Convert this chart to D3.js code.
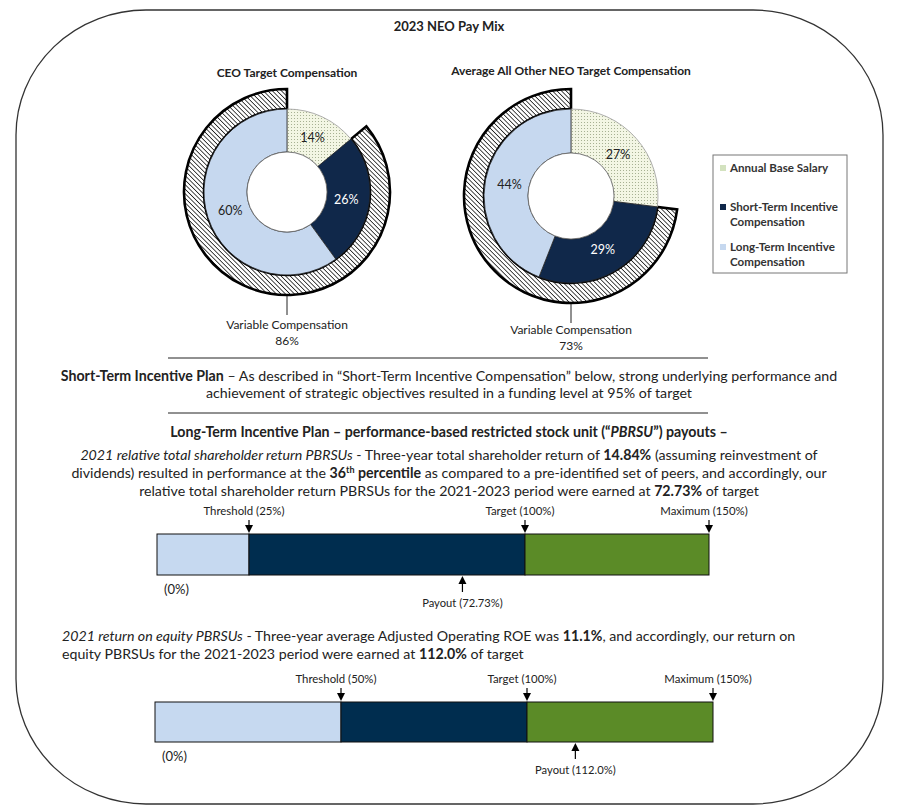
<!DOCTYPE html>
<html>
<head>
<meta charset="utf-8">
<script src="https://cdn.jsdelivr.net/npm/d3@7"></script>
<style>
  body { margin: 0; background: #fff; }
  text { font-family: Lato, "Open Sans", sans-serif; fill: #222; }
</style>
</head>
<body>
<div id="viz"></div>
<script>
// pay mix donuts
var mixTitles = ["CEO Target Compensation", "Average All Other NEO Target Compensation"]
var mixCategories = ["Annual Base Salary", "Short-Term Incentive Compensation", "Long-Term Incentive Compensation"]
var ceoMix = [14, 26, 60]
var neoMix = [27, 29, 44]
var variablePct = [86, 73]

// PBRSU payout bars
var tsrSteps = [0, 25, 100, 150]
var tsrStepLabels = ["(0%)", "Threshold (25%)", "Target (100%)", "Maximum (150%)"]
var roeSteps = [0, 50, 100, 150]
var roeStepLabels = ["(0%)", "Threshold (50%)", "Target (100%)", "Maximum (150%)"]
var payoutLabels = ["Payout (72.73%)", "Payout (112.0%)"]
// where the reference puts the payout arrow on the 0-150% bar (first one is not to scale)
var payoutMarks = [83, 113]

var sliceColors = ["url(#dots)", "#10284a", "#c6d8ef"]
var legendColors = ["#d3e2bf", "#10284a", "#c6d8ef"]
var barColors = ["#c6d9f0", "#002d4f", "#5b8b27"]

var svg = d3.select("#viz")
    .append("svg")
    .attr("width", 898)
    .attr("height", 809)

var defs = svg.append("defs")
var hatch = defs.append("pattern")
    .attr("id", "hatch")
    .attr("width", 3.2).attr("height", 3.2)
    .attr("patternUnits", "userSpaceOnUse")
    .attr("patternTransform", "rotate(-45)")
hatch.append("rect").attr("width", 3.2).attr("height", 3.2).attr("fill", "#fff")
hatch.append("line").attr("x1", 0).attr("y1", 0).attr("x2", 0).attr("y2", 3.2)
    .attr("stroke", "#111").attr("stroke-width", 1.5)

var dots = defs.append("pattern")
    .attr("id", "dots")
    .attr("width", 3).attr("height", 3)
    .attr("patternUnits", "userSpaceOnUse")
dots.append("rect").attr("width", 3).attr("height", 3).attr("fill", "#f3f6e4")
dots.append("circle").attr("cx", 1.5).attr("cy", 1.5).attr("r", 0.55).attr("fill", "#9aa584")

// outer frame
svg.append("rect")
    .attr("x", 16).attr("y", 10)
    .attr("width", 867).attr("height", 794)
    .attr("rx", 130).attr("ry", 125)
    .attr("fill", "none")
    .attr("stroke", "#333")
    .attr("stroke-width", 1.3)

svg.append("text")
    .attr("x", 449).attr("y", 31)
    .attr("text-anchor", "middle")
    .style("font-size", "13px")
    .style("font-weight", "bold")
    .text("2023 NEO Pay Mix")

// ---- donuts ----
var donuts = [
    {values: ceoMix, cx: 287, cy: 192, r: 83, hole: 40, ring: 20, titleY: 77, noteY: 329},
    {values: neoMix, cx: 571, cy: 196, r: 87, hole: 43, ring: 20, titleY: 75, noteY: 334}
]

var pie = d3.pie().sort(null).value(d => d)

donuts.forEach(function(dn, k) {
    var g = svg.append("g").attr("transform", "translate(" + dn.cx + "," + dn.cy + ")")
    var arc = d3.arc().innerRadius(dn.hole).outerRadius(dn.r)
    var labelArc = d3.arc().innerRadius(dn.r * 0.72).outerRadius(dn.r * 0.72)

    // variable compensation ring (everything but base salary)
    var ringArc = d3.arc()
        .innerRadius(dn.r)
        .outerRadius(dn.r + dn.ring)
        .startAngle(2 * Math.PI * dn.values[0] / 100)
        .endAngle(2 * Math.PI)
    g.append("path")
        .attr("d", ringArc())
        .attr("fill", "url(#hatch)")
        .attr("stroke", "#000")
        .attr("stroke-width", 2.6)
        .attr("stroke-linejoin", "miter")

    g.selectAll("path.slice")
        .data(pie(dn.values))
        .enter()
        .append("path")
        .attr("class", "slice")
        .attr("d", arc)
        .attr("fill", (d, i) => sliceColors[i])
        .attr("stroke", (d, i) => i == 0 ? "#9a9a9a" : "#222")
        .attr("stroke-width", 0.8)

    g.append("circle").attr("r", dn.hole).attr("fill", "#fff").attr("stroke", "#666").attr("stroke-width", 0.8)

    g.selectAll("text.pct")
        .data(pie(dn.values))
        .enter()
        .append("text")
        .attr("class", "pct")
        .attr("transform", d => "translate(" + labelArc.centroid(d) + ")")
        .attr("dy", "0.35em")
        .attr("text-anchor", "middle")
        .style("font-size", "12.5px")
        .style("fill", (d, i) => i == 1 ? "#fff" : "#222")
        .text(d => d.data + "%")

    // leader line from the bottom of the ring
    g.append("line")
        .attr("x1", 0).attr("x2", 0)
        .attr("y1", dn.r + dn.ring + 1)
        .attr("y2", dn.r + dn.ring + 20)
        .attr("stroke", "#222").attr("stroke-width", 1)

    svg.append("text")
        .attr("x", dn.cx).attr("y", dn.titleY)
        .attr("text-anchor", "middle")
        .style("font-size", "12px")
        .style("font-weight", "bold")
        .text(mixTitles[k])

    svg.append("text")
        .attr("x", dn.cx).attr("y", dn.noteY)
        .attr("text-anchor", "middle")
        .style("font-size", "12px")
        .text("Variable Compensation")
    svg.append("text")
        .attr("x", dn.cx).attr("y", dn.noteY + 16)
        .attr("text-anchor", "middle")
        .style("font-size", "12px")
        .text(variablePct[k] + "%")
})

// ---- legend ----
var legend = svg.append("g").attr("transform", "translate(713,155)")
legend.append("rect")
    .attr("width", 134).attr("height", 118)
    .attr("fill", "#fff").attr("stroke", "#777").attr("stroke-width", 1)

var legendLines = [["Annual Base Salary"], ["Short-Term Incentive", "Compensation"], ["Long-Term Incentive", "Compensation"]]
var legendY = [17, 56, 96]
mixCategories.forEach(function(c, i) {
    legend.append("rect")
        .attr("x", 7).attr("y", legendY[i] - 7)
        .attr("width", 6).attr("height", 6)
        .attr("fill", legendColors[i])
    legendLines[i].forEach(function(t, j) {
        legend.append("text")
            .attr("x", 17).attr("y", legendY[i] + j * 15)
            .style("font-size", "11.6px")
            .style("font-weight", "bold")
            .style("fill", "#333")
            .text(t)
    })
})

// ---- paragraph text ----
function richLine(x, y, anchor, parts) {
    var t = svg.append("text")
        .attr("x", x).attr("y", y)
        .attr("text-anchor", anchor)
        .style("font-size", "14.2px")
    parts.forEach(function(p) {
        var s = t.append("tspan").text(p[0])
        if (p[1] && p[1].indexOf("b") >= 0) s.style("font-weight", "bold")
        if (p[1] && p[1].indexOf("i") >= 0) s.style("font-style", "italic")
        if (p[1] && p[1].indexOf("sup") >= 0) s.attr("dy", -5).style("font-size", "9px")
        if (p[1] && p[1].indexOf("down") >= 0) s.attr("dy", 5)
    })
}

svg.append("line").attr("x1", 168).attr("x2", 708).attr("y1", 358).attr("y2", 358).attr("stroke", "#222")
svg.append("line").attr("x1", 168).attr("x2", 708).attr("y1", 413).attr("y2", 413).attr("stroke", "#222")

richLine(449, 381, "middle", [["Short-Term Incentive Plan", "b"], [" \u2013 As described in \u201cShort-Term Incentive Compensation\u201d below, strong underlying performance and"]])
richLine(449, 398, "middle", [["achievement of strategic objectives resulted in a funding level at 95% of target"]])

richLine(449, 437, "middle", [["Long-Term Incentive Plan \u2013 performance-based restricted stock unit (\u201c", "b"], ["PBRSU", "bi"], ["\u201d) payouts \u2013", "b"]])
richLine(449, 460, "middle", [["2021 relative total shareholder return PBRSUs", "i"], [" - Three-year total shareholder return of "], ["14.84%", "b"], [" (assuming reinvestment of"]])
richLine(449, 478, "middle", [["dividends) resulted in performance at the "], ["36", "b"], ["th", "b sup"], [" percentile", "b down"], [" as compared to a pre-identified set of peers, and accordingly, our"]])
richLine(449, 496, "middle", [["relative total shareholder return PBRSUs for the 2021-2023 period were earned at "], ["72.73%", "b"], [" of target"]])

richLine(62, 641, "start", [["2021 return on equity PBRSUs", "i"], [" - Three-year average Adjusted Operating ROE was "], ["11.1%", "b"], [", and accordingly, our return on"]])
richLine(62, 659, "start", [["equity PBRSUs for the 2021-2023 period were earned at "], ["112.0%", "b"], [" of target"]])

// ---- payout bars ----
var bars = [
    {steps: tsrSteps, labels: tsrStepLabels, x0: 157, x1: 709, y: 534, h: 41},
    {steps: roeSteps, labels: roeStepLabels, x0: 155, x1: 713, y: 702, h: 40}
]

function downArrow(x, tipY) {
    svg.append("line").attr("x1", x).attr("x2", x).attr("y1", tipY - 13).attr("y2", tipY - 6)
        .attr("stroke", "#000").attr("stroke-width", 1.2)
    svg.append("path")
        .attr("d", d3.line()([[x - 4, tipY - 8], [x + 4, tipY - 8], [x, tipY]]) + "Z")
        .attr("fill", "#000")
}
function upArrow(x, tipY) {
    svg.append("line").attr("x1", x).attr("x2", x).attr("y1", tipY + 6).attr("y2", tipY + 16)
        .attr("stroke", "#000").attr("stroke-width", 1.2)
    svg.append("path")
        .attr("d", d3.line()([[x - 4, tipY + 8], [x + 4, tipY + 8], [x, tipY]]) + "Z")
        .attr("fill", "#000")
}

bars.forEach(function(b, k) {
    var x = d3.scaleLinear().domain([0, 150]).range([b.x0, b.x1])
    var segs = d3.pairs(b.steps)

    svg.selectAll("rect.seg" + k)
        .data(segs)
        .enter()
        .append("rect")
        .attr("class", "seg" + k)
        .attr("x", d => x(d[0]))
        .attr("y", b.y)
        .attr("width", d => x(d[1]) - x(d[0]))
        .attr("height", b.h)
        .attr("fill", (d, i) => barColors[i])
        .attr("stroke", "#111")
        .attr("stroke-width", 1)

    b.steps.slice(1).forEach(function(s, i) {
        downArrow(x(s), b.y - 1)
        svg.append("text")
            .attr("x", x(s) - 5).attr("y", b.y - 19)
            .attr("text-anchor", "middle")
            .style("font-size", "11.4px")
            .text(b.labels[i + 1])
    })

    svg.append("text")
        .attr("x", x(0) + 7).attr("y", b.y + b.h + 19)
        .style("font-size", "13px")
        .text(b.labels[0])

    upArrow(x(payoutMarks[k]), b.y + b.h + 1)
    svg.append("text")
        .attr("x", x(payoutMarks[k])).attr("y", b.y + b.h + 32)
        .attr("text-anchor", "middle")
        .style("font-size", "11.2px")
        .text(payoutLabels[k])
})
</script>
</body>
</html>
